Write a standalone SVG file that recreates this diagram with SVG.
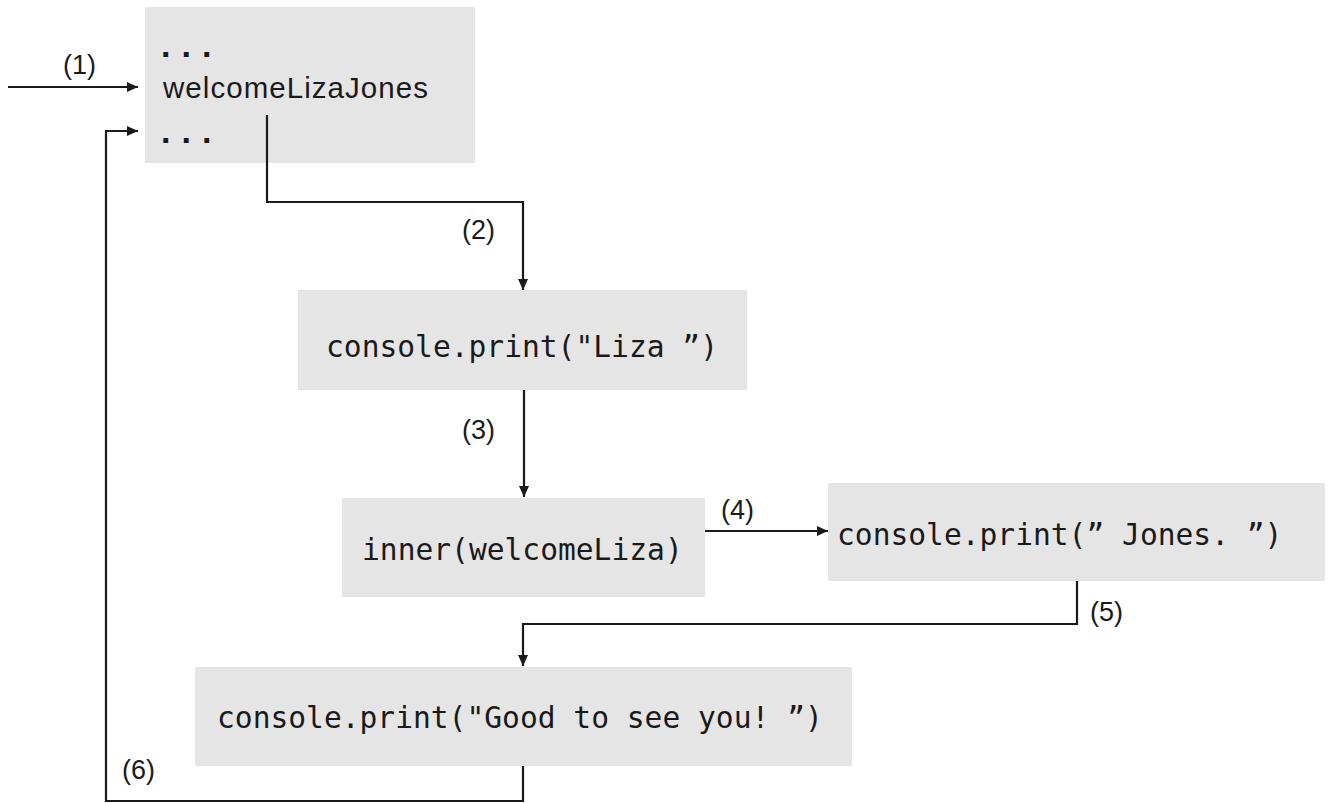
<svg xmlns="http://www.w3.org/2000/svg" width="1331" height="803" viewBox="0 0 1331 803">
<style>
.box{fill:#e6e5e6}
.code{font-family:"DejaVu Sans Mono","Liberation Mono",monospace;font-size:29.6px;fill:#1a1a1a}
.sans{font-family:"Liberation Sans",Arial,sans-serif;fill:#1a1a1a}
.dots{font-family:"Liberation Sans",Arial,sans-serif;font-size:34px;font-weight:bold;letter-spacing:11px;fill:#1a1a1a}
.lbl{font-family:"Liberation Sans",Arial,sans-serif;font-size:27px;fill:#1a1a1a}
.wire{fill:none;stroke:#1a1a1a;stroke-width:2.2}
</style>
<defs>
<marker id="arr" markerWidth="12" markerHeight="11" refX="11" refY="5.5" orient="auto" markerUnits="userSpaceOnUse">
<path d="M0,0.5 L11,5.5 L0,10.5 Z" fill="#1a1a1a"/>
</marker>
</defs>
<rect width="1331" height="803" fill="#ffffff"/>
<g id="node-caller">
<rect class="box" x="145" y="7" width="330" height="156"/>
<text class="dots" x="161" y="57">...</text>
<text class="sans" x="163" y="98" font-size="29.5" textLength="265" lengthAdjust="spacing">welcomeLizaJones</text>
<text class="dots" x="161" y="143">...</text>
</g>
<g id="node-print-liza">
<rect class="box" x="298" y="290" width="449" height="100"/>
<text class="code" x="326" y="357">console.print("Liza ”)</text>
</g>
<g id="node-inner">
<rect class="box" x="342" y="498" width="363" height="99"/>
<text class="code" x="362" y="560">inner(welcomeLiza)</text>
</g>
<g id="node-print-jones">
<rect class="box" x="828" y="483" width="497" height="98"/>
<text class="code" x="837" y="545" font-size="30">console.print(” Jones. ”)</text>
</g>
<g id="node-print-good">
<rect class="box" x="195" y="667" width="657" height="99"/>
<text class="code" x="217" y="728">console.print("Good to see you! ”)</text>
</g>
<g id="connectors">
<path class="wire" d="M8,87 H138" marker-end="url(#arr)"/>
<path class="wire" d="M267,115 V202 H523 V290" marker-end="url(#arr)"/>
<path class="wire" d="M524,390 V497" marker-end="url(#arr)"/>
<path class="wire" d="M705,531 H828" marker-end="url(#arr)"/>
<path class="wire" d="M1077,581 V624 H523 V666" marker-end="url(#arr)"/>
<path class="wire" d="M523,766 V801 H106 V131 H138" marker-end="url(#arr)"/>
<text class="lbl" x="63" y="74">(1)</text>
<text class="lbl" x="462" y="239">(2)</text>
<text class="lbl" x="462" y="439">(3)</text>
<text class="lbl" x="721" y="519">(4)</text>
<text class="lbl" x="1090" y="621">(5)</text>
<text class="lbl" x="122" y="779">(6)</text>
</g>
</svg>
